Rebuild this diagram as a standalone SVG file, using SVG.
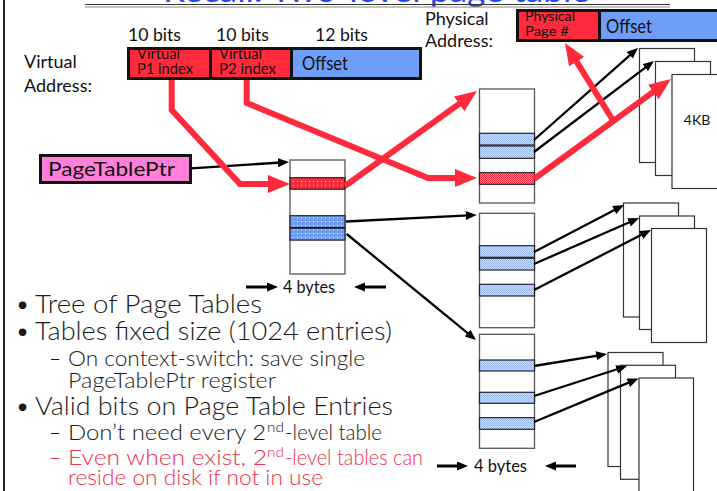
<svg xmlns="http://www.w3.org/2000/svg" width="717" height="491" viewBox="0 0 717 491">
  <defs>
    <style>
      .lbl { font-family: "Lato", "Liberation Sans", sans-serif; fill: #111; }
      .bul { font-family: "Lato", "Liberation Sans", sans-serif; font-weight: 300; fill: #1a1a1a; }
      .red { fill: #f0304c; }
      .tbl { fill: #fff; stroke: #555; stroke-width: 1.3; }
      .page { fill: #fff; stroke: #333; stroke-width: 1.2; }
      .ent { stroke: #222; stroke-width: 1.2; }
      .box { stroke: #111; stroke-width: 3; }
      .wire { fill: none; stroke: #000; stroke-width: 2.3; marker-end: url(#blk); }
      .bigred { fill: none; stroke: #ff2b3d; stroke-width: 6; stroke-linejoin: miter; marker-end: url(#rd); }
    </style>
    <pattern id="dotRed" width="4" height="4" patternUnits="userSpaceOnUse">
      <rect width="4" height="4" fill="#ff2b3d"/>
      <rect x="1" y="1" width="1" height="1" fill="#ffd0d4"/>
    </pattern>
    <pattern id="dotBlue" width="4" height="4" patternUnits="userSpaceOnUse">
      <rect width="4" height="4" fill="#6f9ef5"/>
      <rect x="1" y="1" width="1" height="1" fill="#e6eeff"/>
    </pattern>
    <pattern id="chkBlue" width="2" height="2" patternUnits="userSpaceOnUse">
      <rect width="2" height="2" fill="#cddcf7"/>
      <rect width="1" height="1" fill="#9cb9ec"/>
      <rect x="1" y="1" width="1" height="1" fill="#9cb9ec"/>
    </pattern>
    <pattern id="chkRed" width="2" height="2" patternUnits="userSpaceOnUse">
      <rect width="2" height="2" fill="#ff8a94"/>
      <rect width="1" height="1" fill="#ff2b3d"/>
      <rect x="1" y="1" width="1" height="1" fill="#ff2b3d"/>
    </pattern>
    <marker id="blk" markerUnits="userSpaceOnUse" markerWidth="12" markerHeight="10" refX="3" refY="4.5" orient="auto">
      <path d="M0,0 L11,4.5 L0,9 z" fill="#000"/>
    </marker>
    <marker id="rd" markerUnits="userSpaceOnUse" markerWidth="24" markerHeight="20" refX="6" refY="9" orient="auto">
      <path d="M0,0 L22,9 L0,18 z" fill="#ff2b3d"/>
    </marker>
  </defs>

  <rect width="717" height="491" fill="#fff"/>

  <!-- slide frame and title -->
  <line x1="4" y1="0" x2="4" y2="491" stroke="#222" stroke-width="2"/>
  <text x="163" y="2" textLength="427" lengthAdjust="spacingAndGlyphs" style="font-family:'Lato','Liberation Sans',sans-serif;font-size:30px;fill:#2a46f0">Recall: Two-level page table</text>
  <line x1="85" y1="4.5" x2="670" y2="4.5" stroke="#333" stroke-width="1.2"/>
  <line x1="85" y1="7" x2="670" y2="7" stroke="#888" stroke-width="1"/>

  <!-- virtual address -->
  <g id="virtual-address">
    <text class="lbl" x="24" y="68" font-size="18">Virtual</text>
    <text class="lbl" x="24" y="92" font-size="18">Address:</text>
    <text class="lbl" x="128" y="41" font-size="18" textLength="53" lengthAdjust="spacingAndGlyphs">10 bits</text>
    <text class="lbl" x="216" y="41" font-size="18" textLength="53" lengthAdjust="spacingAndGlyphs">10 bits</text>
    <text class="lbl" x="315" y="41" font-size="18" textLength="53" lengthAdjust="spacingAndGlyphs">12 bits</text>
    <rect class="box" x="128.5" y="48.5" width="82" height="30" fill="#ff2b3d"/>
    <rect class="box" x="210.5" y="48.5" width="81" height="30" fill="#ff2b3d"/>
    <rect class="box" x="291.5" y="48.5" width="129" height="30" fill="#6f9ef9"/>
    <text class="lbl" x="137" y="58.5" font-size="14.5" textLength="43" lengthAdjust="spacingAndGlyphs">Virtual</text>
    <text class="lbl" x="137" y="74" font-size="14.5" textLength="56" lengthAdjust="spacingAndGlyphs">P1 index</text>
    <text class="lbl" x="219" y="58.5" font-size="14.5" textLength="43" lengthAdjust="spacingAndGlyphs">Virtual</text>
    <text class="lbl" x="219" y="74" font-size="14.5" textLength="57" lengthAdjust="spacingAndGlyphs">P2 index</text>
    <text class="lbl" x="302" y="70" font-size="19" textLength="46" lengthAdjust="spacingAndGlyphs">Offset</text>
  </g>

  <!-- physical address -->
  <g id="physical-address">
    <text class="lbl" x="425" y="25" font-size="18">Physical</text>
    <text class="lbl" x="425" y="47" font-size="18">Address:</text>
    <rect class="box" x="517.5" y="10.5" width="82" height="30" fill="#ff2b3d"/>
    <rect class="box" x="599.5" y="10.5" width="125" height="30" fill="#6f9ef9"/>
    <text class="lbl" x="525" y="21" font-size="14" textLength="50" lengthAdjust="spacingAndGlyphs">Physical</text>
    <text class="lbl" x="525" y="35.5" font-size="14" textLength="44" lengthAdjust="spacingAndGlyphs">Page #</text>
    <text class="lbl" x="606" y="33" font-size="19" textLength="46" lengthAdjust="spacingAndGlyphs">Offset</text>
  </g>

  <!-- page table pointer -->
  <g id="page-table-ptr">
    <rect class="box" x="40.5" y="155.5" width="150" height="27" fill="#ff80d8"/>
    <text class="lbl" x="48" y="176" font-size="19" textLength="127" lengthAdjust="spacingAndGlyphs">PageTablePtr</text>
  </g>

  <!-- first-level table -->
  <g id="level1-table">
    <rect class="tbl" x="290" y="160" width="55" height="114"/>
    <rect class="ent" x="290" y="177.7" width="55" height="11.5" fill="url(#dotRed)"/>
    <rect class="ent" x="290" y="215.7" width="55" height="11.8" fill="url(#dotBlue)"/>
    <rect class="ent" x="290" y="228.3" width="55" height="11.8" fill="url(#dotBlue)"/>
    <text class="lbl" x="283" y="293" font-size="17" textLength="52" lengthAdjust="spacingAndGlyphs">4 bytes</text>
  </g>

  <!-- second-level tables -->
  <g id="level2-table-a">
    <rect class="tbl" x="479.5" y="89" width="55" height="114"/>
    <rect class="ent" x="479.5" y="133.3" width="55" height="11.7" fill="url(#chkBlue)"/>
    <rect class="ent" x="479.5" y="146" width="55" height="12.3" fill="url(#chkBlue)"/>
    <rect class="ent" x="479.5" y="172.7" width="55" height="11.6" fill="url(#chkRed)"/>
  </g>
  <g id="level2-table-b">
    <rect class="tbl" x="479.5" y="213.3" width="55" height="114.4"/>
    <rect class="ent" x="479.5" y="245.7" width="55" height="11.6" fill="url(#chkBlue)"/>
    <rect class="ent" x="479.5" y="258.3" width="55" height="11.7" fill="url(#chkBlue)"/>
    <rect class="ent" x="479.5" y="284.3" width="55" height="11.7" fill="url(#chkBlue)"/>
  </g>
  <g id="level2-table-c">
    <rect class="tbl" x="479.5" y="334.3" width="55" height="114"/>
    <rect class="ent" x="479.5" y="360" width="55" height="11" fill="url(#chkBlue)"/>
    <rect class="ent" x="479.5" y="392.3" width="55" height="11" fill="url(#chkBlue)"/>
    <rect class="ent" x="479.5" y="417.7" width="55" height="11.6" fill="url(#chkBlue)"/>
    <text class="lbl" x="474" y="472" font-size="17" textLength="53" lengthAdjust="spacingAndGlyphs">4 bytes</text>
  </g>

  <!-- physical pages -->
  <g id="pages-a">
    <rect class="page" x="639.5" y="48.5" width="55" height="114"/>
    <rect class="page" x="655.5" y="61.5" width="55" height="114"/>
    <rect class="page" x="672" y="74.5" width="50" height="114" fill="#6f9ef9"/>
    <text class="lbl" x="697" y="125" font-size="14" text-anchor="middle">4KB</text>
  </g>
  <g id="pages-b">
    <rect class="page" x="623.5" y="203" width="55" height="114"/>
    <rect class="page" x="639.5" y="216" width="55" height="113.5"/>
    <rect class="page" x="651.5" y="228.5" width="55" height="114"/>
  </g>
  <g id="pages-c">
    <rect class="page" x="608" y="352.5" width="55" height="114"/>
    <rect class="page" x="620.5" y="365.3" width="55" height="114"/>
    <rect class="page" x="639" y="378" width="54.5" height="120"/>
  </g>

  <!-- connectors -->
  <g id="connectors">
    <path class="wire" d="M191,168.3 L281,162.5"/>
    <path class="wire" d="M346,221.5 L468.7,215.4"/>
    <path class="wire" d="M346.7,234 L469.8,334.9"/>
    <path class="wire" d="M534,140 L632,53.3"/>
    <path class="wire" d="M534,152 L647.6,65.8"/>
    <path class="wire" d="M534,252 L616.9,208.7"/>
    <path class="wire" d="M534,264 L631.7,221.2"/>
    <path class="wire" d="M534,290 L643.9,233.6"/>
    <path class="wire" d="M534,366 L599.1,355.3"/>
    <path class="wire" d="M534,396 L619.4,368.5"/>
    <path class="wire" d="M534,422 L631.1,381.6"/>
    <!-- width markers -->
    <path class="wire" style="stroke-width:3" d="M246,287 L270,287"/>
    <path class="wire" style="stroke-width:3" d="M386,287 L362,287"/>
    <path class="wire" style="stroke-width:3" d="M437,466 L460,466"/>
    <path class="wire" style="stroke-width:3" d="M576,466 L553,466"/>
    <!-- address translation path -->
    <path class="bigred" d="M171.7,80 L171.7,110 L240,184 L274,184"/>
    <path class="bigred" d="M246.7,80 L246.7,103 L428,178 L461,178"/>
    <path class="bigred" d="M345,186 L464,100.4"/>
    <path class="bigred" d="M534,179 L658.1,88.4"/>
    <path class="bigred" d="M614,122 L573.5,56.6"/>
  </g>

  <!-- bullet text -->
  <g id="notes">
    <text class="bul" x="15" y="313" font-size="26">•</text>
    <text class="bul" x="35" y="313" font-size="26" textLength="227" lengthAdjust="spacingAndGlyphs">Tree of Page Tables</text>
    <text class="bul" x="15" y="340" font-size="26">•</text>
    <text class="bul" x="35" y="340" font-size="26" textLength="357" lengthAdjust="spacingAndGlyphs">Tables fixed size (1024 entries)</text>
    <text class="bul" x="49" y="366" font-size="21">–</text>
    <text class="bul" x="68" y="366" font-size="21" textLength="297" lengthAdjust="spacingAndGlyphs">On context-switch: save single</text>
    <text class="bul" x="68" y="388" font-size="21" textLength="208" lengthAdjust="spacingAndGlyphs">PageTablePtr register</text>
    <text class="bul" x="15" y="415" font-size="26">•</text>
    <text class="bul" x="35" y="415" font-size="26" textLength="358" lengthAdjust="spacingAndGlyphs">Valid bits on Page Table Entries</text>
    <text class="bul" x="49" y="440" font-size="21">–</text>
    <text class="bul" x="68" y="440" font-size="21" textLength="198" lengthAdjust="spacingAndGlyphs">Don’t need every 2</text>
    <text class="bul" x="267" y="432" font-size="13" textLength="17" lengthAdjust="spacingAndGlyphs">nd</text>
    <text class="bul" x="285" y="440" font-size="21" textLength="97" lengthAdjust="spacingAndGlyphs">-level table</text>
    <text class="bul red" x="49" y="465" font-size="21">–</text>
    <text class="bul red" x="68" y="465" font-size="21" textLength="199" lengthAdjust="spacingAndGlyphs">Even when exist, 2</text>
    <text class="bul red" x="267" y="457" font-size="13" textLength="17" lengthAdjust="spacingAndGlyphs">nd</text>
    <text class="bul red" x="285" y="465" font-size="21" textLength="138" lengthAdjust="spacingAndGlyphs">-level tables can</text>
    <text class="bul red" x="68" y="485" font-size="21" textLength="255" lengthAdjust="spacingAndGlyphs">reside on disk if not in use</text>
  </g>
</svg>
